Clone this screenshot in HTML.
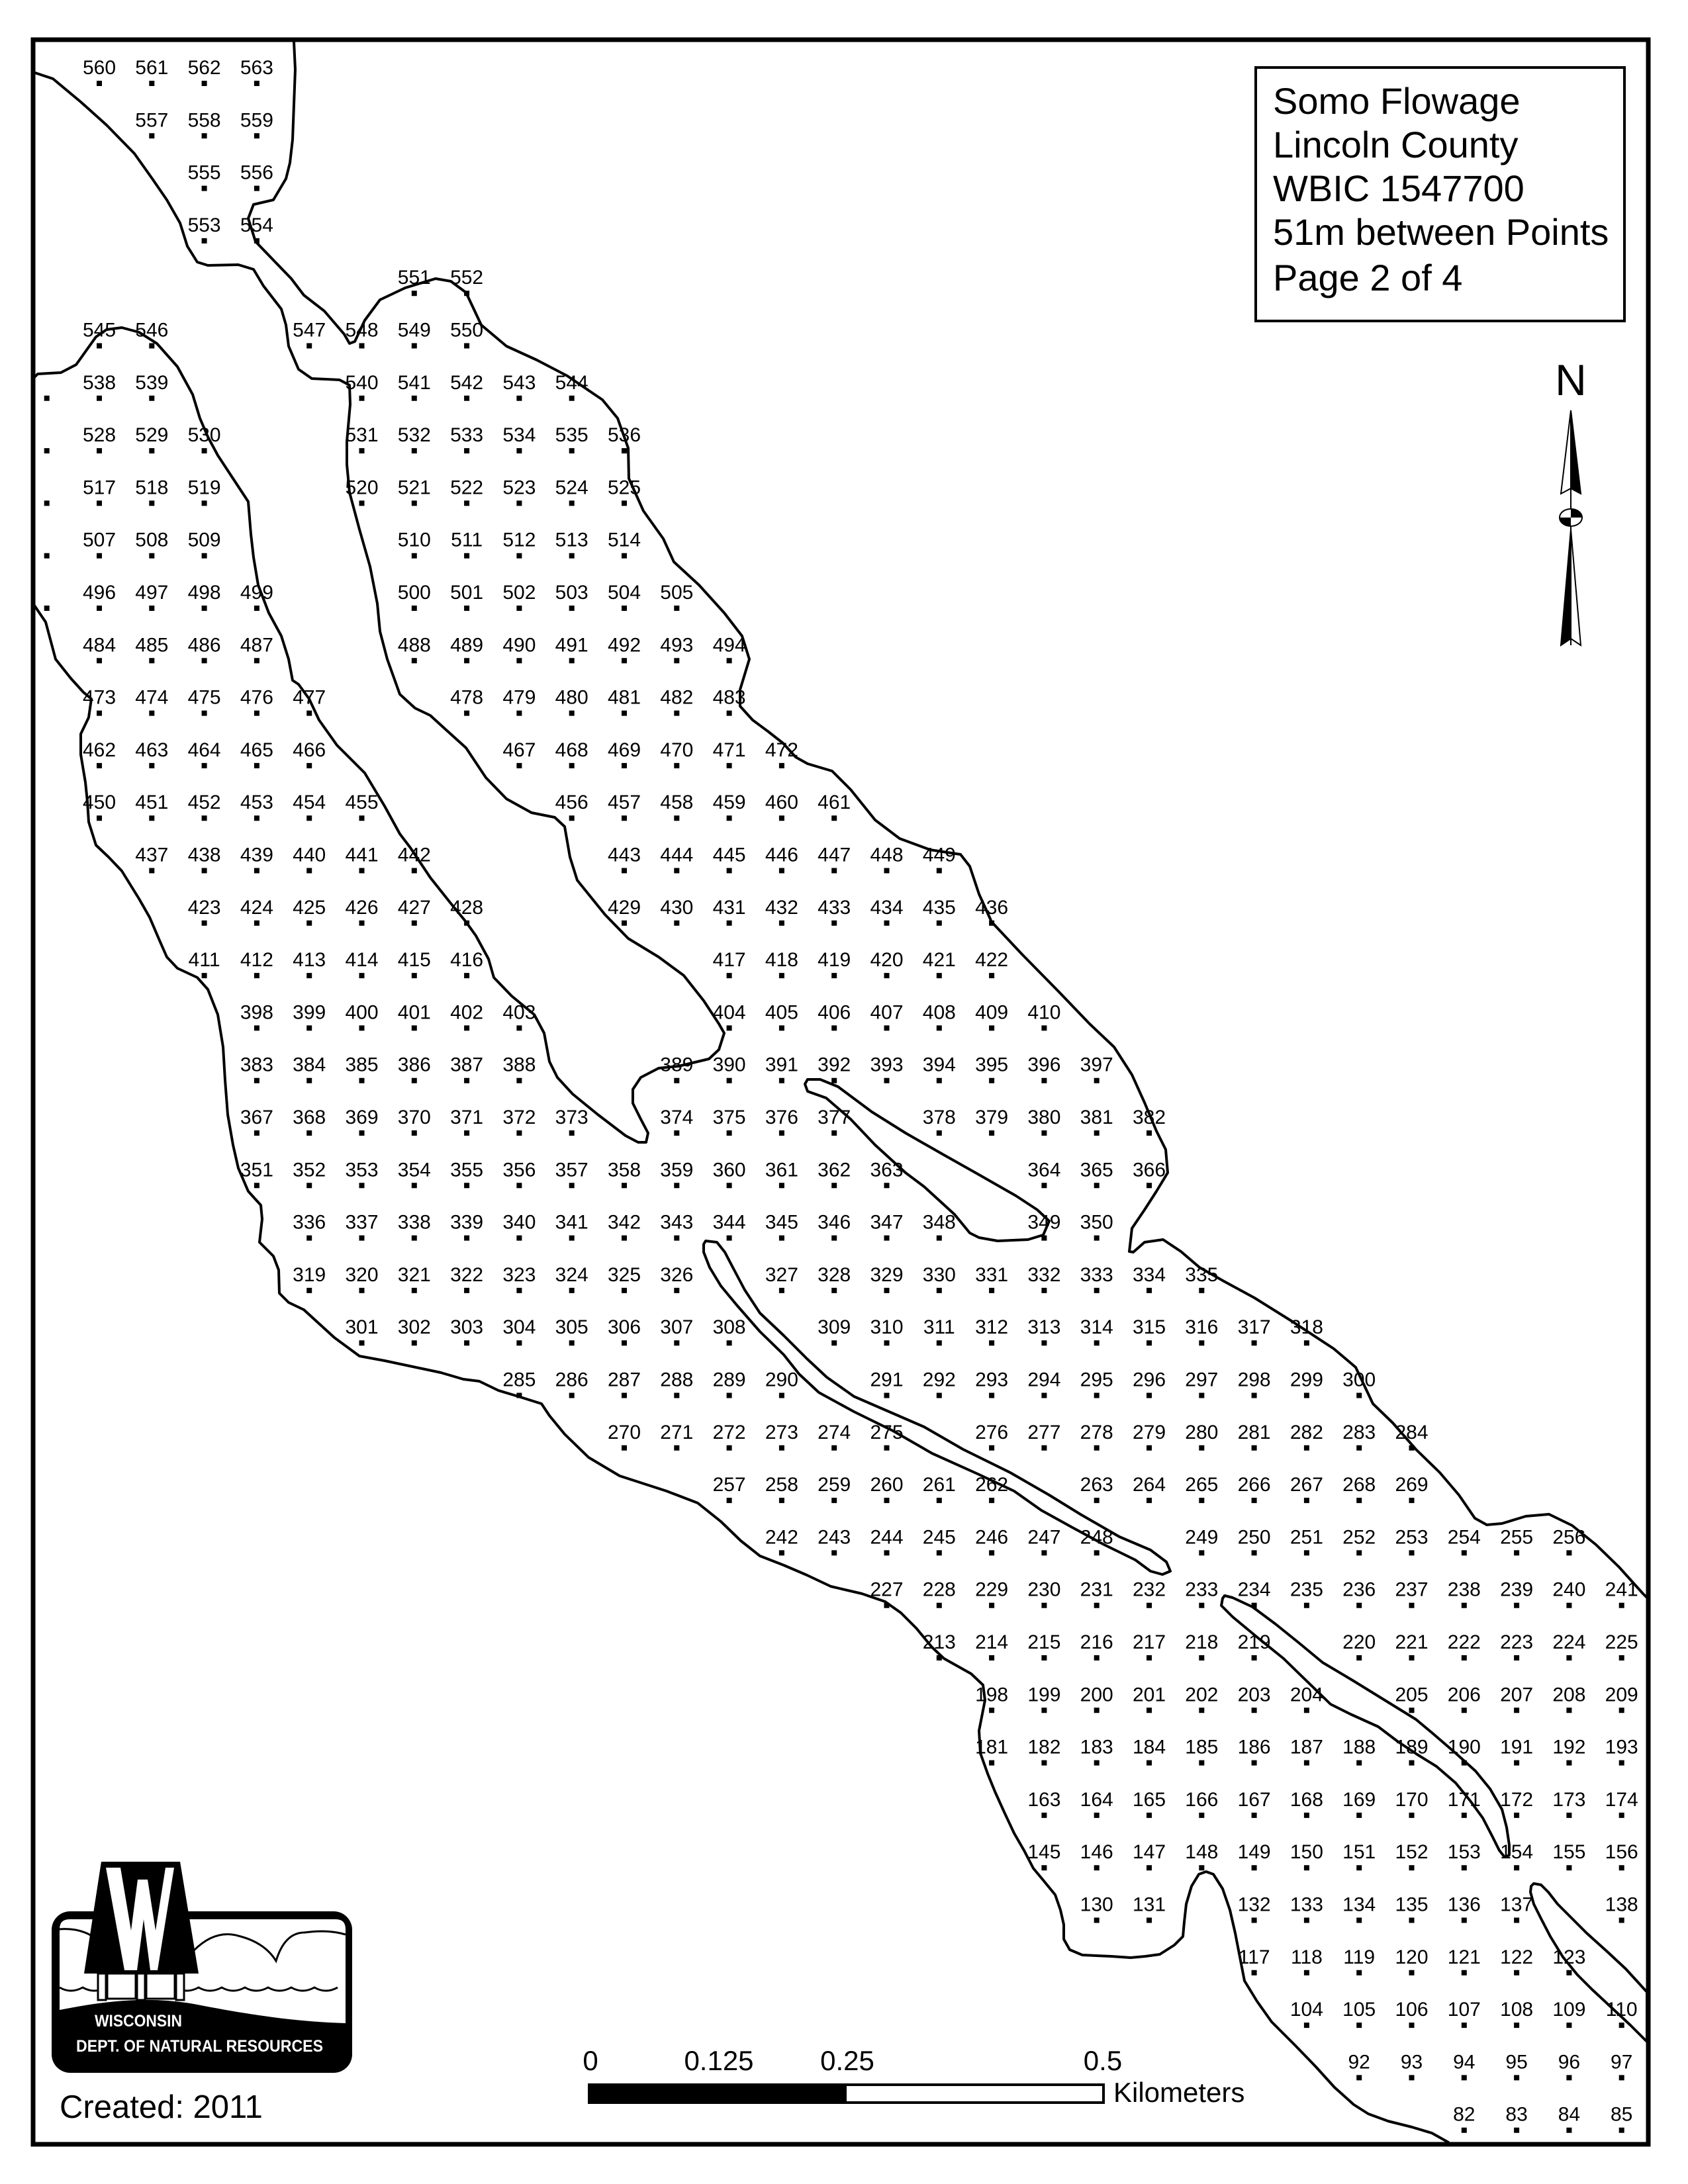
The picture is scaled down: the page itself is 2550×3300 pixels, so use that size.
<!DOCTYPE html>
<html><head><meta charset="utf-8"><style>
html,body{margin:0;padding:0;background:#fff}
svg{display:block}
.n text{font-family:"Liberation Sans",Arial,sans-serif;font-size:30px;text-anchor:middle;fill:#000}
.n path{stroke:#000;stroke-width:8;stroke-dasharray:8 71.3;fill:none}
.sh{fill:none;stroke:#000;stroke-width:4;stroke-linejoin:round;stroke-linecap:round}
</style></head><body>
<svg width="2550" height="3300" viewBox="0 0 2550 3300" xmlns="http://www.w3.org/2000/svg">
<rect x="0" y="0" width="2550" height="3300" fill="#fff"/>

<polyline class="sh" points="50,109 80,119 122,154 161,189 203,232 230,270 252,302 272,337 283,372 298,396 314,401 360,400 383,407 398,432 425,467 432,491 436,523 451,558 471,572 513,574 528,582 529,611 524,667 524,702 528,744 543,800 559,856 570,912 574,954 585,996 604,1049 627,1070 650,1081 673,1102 704,1130 734,1175 765,1207 803,1228 838,1235 853,1249 861,1295 872,1330 914,1382 949,1418 995,1446 1033,1474 1063,1512 1086,1547 1094,1561 1086,1586 1071,1600 1025,1611 995,1614 968,1628 956,1646 956,1667 968,1691 979,1712 976,1726 964,1726 945,1716 903,1684 865,1653 842,1628 830,1604 822,1561 807,1533 773,1505 746,1477 738,1449 719,1414 704,1393 681,1365 650,1326 620,1281 604,1260 581,1218 551,1168 509,1126 482,1088 467,1056 451,1034 442,1028 436,996 425,961 406,926 390,884 383,842 379,807 375,758 352,723 329,688 314,660 302,632 291,596 268,554 237,519 210,502 184,495 161,498 145,509 115,551 92,563 57,565 50,572"/>
<polyline class="sh" points="444,63 446,105 442,211 438,246 432,270 413,302 383,309 375,330 386,365 413,393 440,421 459,446 490,470 520,505 528,519 536,516 551,484 574,453 612,435 658,421 681,425 704,442 727,491 765,523 811,544 857,568 910,604 933,632 949,677 950,723 972,772 1002,814 1018,849 1056,884 1094,926 1121,961 1132,996 1118,1042 1118,1067 1137,1088 1160,1105 1183,1123 1202,1144 1220,1154 1257,1165 1285,1193 1322,1239 1359,1267 1405,1284 1451,1291 1465,1309 1479,1351 1498,1393 1544,1442 1599,1498 1646,1547 1683,1582 1710,1624 1729,1666 1747,1709 1761,1737 1764,1772 1747,1800 1729,1828 1710,1856 1706,1891 1712,1892 1729,1877 1757,1873 1784,1891 1812,1915 1849,1936 1895,1961 1951,1996 2015,2038 2048,2066 2074,2121 2104,2150 2139,2190 2175,2225 2204,2259 2228,2294 2246,2304 2269,2302 2305,2291 2340,2288 2375,2305 2411,2334 2446,2368 2482,2408 2490,2416"/>
<polyline class="sh" points="50,912 69,940 84,996 107,1025 126,1046 138,1056 134,1084 122,1109 122,1140 129,1182 132,1211 134,1242 145,1277 164,1295 184,1316 210,1358 226,1386 241,1421 252,1446 268,1463 298,1477 314,1495 329,1533 337,1582 340,1632 344,1684 352,1730 360,1765 375,1800 394,1821 396,1842 392,1877 413,1898 421,1919 422,1954 436,1968 459,1979 505,2021 543,2049 581,2056 666,2074 700,2084 724,2087 753,2101 783,2110 818,2121 830,2139 853,2167 889,2202 936,2230 1007,2253 1054,2271 1089,2299 1119,2328 1148,2351 1184,2365 1219,2380 1255,2397 1302,2408 1337,2420 1361,2437 1384,2460 1408,2489 1426,2506 1467,2529 1485,2546 1488,2569 1479,2615 1481,2649 1492,2680 1503,2707 1517,2738 1532,2770 1547,2796 1561,2823 1576,2841 1594,2863 1602,2886 1607,2908 1607,2930 1616,2946 1635,2954 1679,2956 1708,2958 1730,2956 1752,2953 1774,2939 1787,2926 1789,2904 1792,2877 1800,2850 1811,2832 1822,2828 1833,2832 1847,2854 1858,2886 1866,2921 1873,2957 1880,2993 1899,3024 1921,3055 1957,3091 1987,3122 2016,3154 2045,3180 2067,3194 2097,3205 2133,3214 2163,3223 2188,3237"/>
<polygon class="sh" points="1220,1631 1239,1631 1266,1642 1317,1680 1368,1712 1424,1744 1479,1775 1535,1807 1567,1828 1585,1845 1576,1866 1553,1873 1507,1875 1479,1870 1465,1863 1442,1835 1396,1793 1368,1772 1322,1730 1285,1691 1248,1659 1220,1649 1216,1638"/>
<polygon class="sh" points="1066,1875 1083,1877 1095,1892 1107,1915 1125,1949 1148,1984 1184,2018 1219,2053 1249,2081 1290,2110 1343,2133 1396,2156 1455,2190 1526,2225 1585,2259 1632,2288 1691,2322 1738,2342 1762,2360 1768,2374 1756,2379 1738,2374 1715,2357 1668,2334 1620,2308 1573,2282 1532,2253 1479,2228 1408,2196 1349,2162 1290,2133 1237,2104 1207,2076 1184,2047 1148,2012 1113,1972 1089,1943 1072,1915 1063,1892 1063,1880"/>
<polygon class="sh" points="1850,2411 1862,2414 1892,2428 1927,2454 1963,2483 1998,2512 2045,2540 2092,2569 2139,2598 2163,2618 2199,2649 2229,2676 2251,2703 2269,2734 2276,2761 2280,2788 2280,2803 2273,2806 2265,2796 2254,2774 2240,2747 2221,2721 2199,2694 2170,2669 2141,2651 2111,2631 2082,2609 2040,2590 2010,2575 1974,2540 1939,2506 1903,2477 1862,2443 1845,2426 1847,2415"/>
<polygon class="sh" points="2317,2846 2328,2848 2339,2859 2353,2877 2375,2899 2397,2921 2427,2948 2456,2975 2488,3010 2488,3085 2463,3060 2434,3033 2405,3006 2383,2984 2361,2957 2342,2926 2328,2899 2317,2877 2312,2859 2313,2850"/>

<rect x="50" y="60" width="2440" height="3180" fill="none" stroke="#000" stroke-width="7"/>

<g class="n">
<g transform="translate(0,112)"><text x="150">560</text><text x="229.3">561</text><text x="308.6">562</text><text x="387.9">563</text><path d="M146 14h245.9"/></g>
<g transform="translate(0,191.3)"><text x="229.3">557</text><text x="308.6">558</text><text x="387.9">559</text><path d="M225.3 14h166.6"/></g>
<g transform="translate(0,270.6)"><text x="308.6">555</text><text x="387.9">556</text><path d="M304.6 14h87.3"/></g>
<g transform="translate(0,349.9)"><text x="308.6">553</text><text x="387.9">554</text><path d="M304.6 14h87.3"/></g>
<g transform="translate(0,429.2)"><text x="625.8">551</text><text x="705.1">552</text><path d="M621.8 14h87.3"/></g>
<g transform="translate(0,508.5)"><text x="150">545</text><text x="229.3">546</text><text x="467.2">547</text><text x="546.5">548</text><text x="625.8">549</text><text x="705.1">550</text><path d="M146 14h87.3M463.2 14h245.9"/></g>
<g transform="translate(0,587.8)"><text x="150">538</text><text x="229.3">539</text><text x="546.5">540</text><text x="625.8">541</text><text x="705.1">542</text><text x="784.4">543</text><text x="863.7">544</text><path d="M66.7 14h166.6M542.5 14h325.2"/></g>
<g transform="translate(0,667.1)"><text x="150">528</text><text x="229.3">529</text><text x="308.6">530</text><text x="546.5">531</text><text x="625.8">532</text><text x="705.1">533</text><text x="784.4">534</text><text x="863.7">535</text><text x="943">536</text><path d="M66.7 14h245.9M542.5 14h404.5"/></g>
<g transform="translate(0,746.4)"><text x="150">517</text><text x="229.3">518</text><text x="308.6">519</text><text x="546.5">520</text><text x="625.8">521</text><text x="705.1">522</text><text x="784.4">523</text><text x="863.7">524</text><text x="943">525</text><path d="M66.7 14h245.9M542.5 14h404.5"/></g>
<g transform="translate(0,825.7)"><text x="150">507</text><text x="229.3">508</text><text x="308.6">509</text><text x="625.8">510</text><text x="705.1">511</text><text x="784.4">512</text><text x="863.7">513</text><text x="943">514</text><path d="M66.7 14h245.9M621.8 14h325.2"/></g>
<g transform="translate(0,905)"><text x="150">496</text><text x="229.3">497</text><text x="308.6">498</text><text x="387.9">499</text><text x="625.8">500</text><text x="705.1">501</text><text x="784.4">502</text><text x="863.7">503</text><text x="943">504</text><text x="1022.3">505</text><path d="M66.7 14h325.2M621.8 14h404.5"/></g>
<g transform="translate(0,984.3)"><text x="150">484</text><text x="229.3">485</text><text x="308.6">486</text><text x="387.9">487</text><text x="625.8">488</text><text x="705.1">489</text><text x="784.4">490</text><text x="863.7">491</text><text x="943">492</text><text x="1022.3">493</text><text x="1101.6">494</text><path d="M146 14h245.9M621.8 14h483.8"/></g>
<g transform="translate(0,1063.6)"><text x="150">473</text><text x="229.3">474</text><text x="308.6">475</text><text x="387.9">476</text><text x="467.2">477</text><text x="705.1">478</text><text x="784.4">479</text><text x="863.7">480</text><text x="943">481</text><text x="1022.3">482</text><text x="1101.6">483</text><path d="M146 14h325.2M701.1 14h404.5"/></g>
<g transform="translate(0,1142.9)"><text x="150">462</text><text x="229.3">463</text><text x="308.6">464</text><text x="387.9">465</text><text x="467.2">466</text><text x="784.4">467</text><text x="863.7">468</text><text x="943">469</text><text x="1022.3">470</text><text x="1101.6">471</text><text x="1180.9">472</text><path d="M146 14h325.2M780.4 14h404.5"/></g>
<g transform="translate(0,1222.2)"><text x="150">450</text><text x="229.3">451</text><text x="308.6">452</text><text x="387.9">453</text><text x="467.2">454</text><text x="546.5">455</text><text x="863.7">456</text><text x="943">457</text><text x="1022.3">458</text><text x="1101.6">459</text><text x="1180.9">460</text><text x="1260.2">461</text><path d="M146 14h404.5M859.7 14h404.5"/></g>
<g transform="translate(0,1301.5)"><text x="229.3">437</text><text x="308.6">438</text><text x="387.9">439</text><text x="467.2">440</text><text x="546.5">441</text><text x="625.8">442</text><text x="943">443</text><text x="1022.3">444</text><text x="1101.6">445</text><text x="1180.9">446</text><text x="1260.2">447</text><text x="1339.5">448</text><text x="1418.8">449</text><path d="M225.3 14h404.5M939 14h483.8"/></g>
<g transform="translate(0,1380.8)"><text x="308.6">423</text><text x="387.9">424</text><text x="467.2">425</text><text x="546.5">426</text><text x="625.8">427</text><text x="705.1">428</text><text x="943">429</text><text x="1022.3">430</text><text x="1101.6">431</text><text x="1180.9">432</text><text x="1260.2">433</text><text x="1339.5">434</text><text x="1418.8">435</text><text x="1498.1">436</text><path d="M304.6 14h404.5M939 14h563.1"/></g>
<g transform="translate(0,1460.1)"><text x="308.6">411</text><text x="387.9">412</text><text x="467.2">413</text><text x="546.5">414</text><text x="625.8">415</text><text x="705.1">416</text><text x="1101.6">417</text><text x="1180.9">418</text><text x="1260.2">419</text><text x="1339.5">420</text><text x="1418.8">421</text><text x="1498.1">422</text><path d="M304.6 14h404.5M1097.6 14h404.5"/></g>
<g transform="translate(0,1539.4)"><text x="387.9">398</text><text x="467.2">399</text><text x="546.5">400</text><text x="625.8">401</text><text x="705.1">402</text><text x="784.4">403</text><text x="1101.6">404</text><text x="1180.9">405</text><text x="1260.2">406</text><text x="1339.5">407</text><text x="1418.8">408</text><text x="1498.1">409</text><text x="1577.4">410</text><path d="M383.9 14h404.5M1097.6 14h483.8"/></g>
<g transform="translate(0,1618.7)"><text x="387.9">383</text><text x="467.2">384</text><text x="546.5">385</text><text x="625.8">386</text><text x="705.1">387</text><text x="784.4">388</text><text x="1022.3">389</text><text x="1101.6">390</text><text x="1180.9">391</text><text x="1260.2">392</text><text x="1339.5">393</text><text x="1418.8">394</text><text x="1498.1">395</text><text x="1577.4">396</text><text x="1656.7">397</text><path d="M383.9 14h404.5M1018.3 14h642.4"/></g>
<g transform="translate(0,1698)"><text x="387.9">367</text><text x="467.2">368</text><text x="546.5">369</text><text x="625.8">370</text><text x="705.1">371</text><text x="784.4">372</text><text x="863.7">373</text><text x="1022.3">374</text><text x="1101.6">375</text><text x="1180.9">376</text><text x="1260.2">377</text><text x="1418.8">378</text><text x="1498.1">379</text><text x="1577.4">380</text><text x="1656.7">381</text><text x="1736">382</text><path d="M383.9 14h483.8M1018.3 14h245.9M1414.8 14h325.2"/></g>
<g transform="translate(0,1777.3)"><text x="387.9">351</text><text x="467.2">352</text><text x="546.5">353</text><text x="625.8">354</text><text x="705.1">355</text><text x="784.4">356</text><text x="863.7">357</text><text x="943">358</text><text x="1022.3">359</text><text x="1101.6">360</text><text x="1180.9">361</text><text x="1260.2">362</text><text x="1339.5">363</text><text x="1577.4">364</text><text x="1656.7">365</text><text x="1736">366</text><path d="M383.9 14h959.6M1573.4 14h166.6"/></g>
<g transform="translate(0,1856.6)"><text x="467.2">336</text><text x="546.5">337</text><text x="625.8">338</text><text x="705.1">339</text><text x="784.4">340</text><text x="863.7">341</text><text x="943">342</text><text x="1022.3">343</text><text x="1101.6">344</text><text x="1180.9">345</text><text x="1260.2">346</text><text x="1339.5">347</text><text x="1418.8">348</text><text x="1577.4">349</text><text x="1656.7">350</text><path d="M463.2 14h959.6M1573.4 14h87.3"/></g>
<g transform="translate(0,1935.9)"><text x="467.2">319</text><text x="546.5">320</text><text x="625.8">321</text><text x="705.1">322</text><text x="784.4">323</text><text x="863.7">324</text><text x="943">325</text><text x="1022.3">326</text><text x="1180.9">327</text><text x="1260.2">328</text><text x="1339.5">329</text><text x="1418.8">330</text><text x="1498.1">331</text><text x="1577.4">332</text><text x="1656.7">333</text><text x="1736">334</text><text x="1815.3">335</text><path d="M463.2 14h563.1M1176.9 14h642.4"/></g>
<g transform="translate(0,2015.2)"><text x="546.5">301</text><text x="625.8">302</text><text x="705.1">303</text><text x="784.4">304</text><text x="863.7">305</text><text x="943">306</text><text x="1022.3">307</text><text x="1101.6">308</text><text x="1260.2">309</text><text x="1339.5">310</text><text x="1418.8">311</text><text x="1498.1">312</text><text x="1577.4">313</text><text x="1656.7">314</text><text x="1736">315</text><text x="1815.3">316</text><text x="1894.6">317</text><text x="1973.9">318</text><path d="M542.5 14h563.1M1256.2 14h721.7"/></g>
<g transform="translate(0,2094.5)"><text x="784.4">285</text><text x="863.7">286</text><text x="943">287</text><text x="1022.3">288</text><text x="1101.6">289</text><text x="1180.9">290</text><text x="1339.5">291</text><text x="1418.8">292</text><text x="1498.1">293</text><text x="1577.4">294</text><text x="1656.7">295</text><text x="1736">296</text><text x="1815.3">297</text><text x="1894.6">298</text><text x="1973.9">299</text><text x="2053.2">300</text><path d="M780.4 14h404.5M1335.5 14h721.7"/></g>
<g transform="translate(0,2173.8)"><text x="943">270</text><text x="1022.3">271</text><text x="1101.6">272</text><text x="1180.9">273</text><text x="1260.2">274</text><text x="1339.5">275</text><text x="1498.1">276</text><text x="1577.4">277</text><text x="1656.7">278</text><text x="1736">279</text><text x="1815.3">280</text><text x="1894.6">281</text><text x="1973.9">282</text><text x="2053.2">283</text><text x="2132.5">284</text><path d="M939 14h404.5M1494.1 14h642.4"/></g>
<g transform="translate(0,2253.1)"><text x="1101.6">257</text><text x="1180.9">258</text><text x="1260.2">259</text><text x="1339.5">260</text><text x="1418.8">261</text><text x="1498.1">262</text><text x="1656.7">263</text><text x="1736">264</text><text x="1815.3">265</text><text x="1894.6">266</text><text x="1973.9">267</text><text x="2053.2">268</text><text x="2132.5">269</text><path d="M1097.6 14h404.5M1652.7 14h483.8"/></g>
<g transform="translate(0,2332.4)"><text x="1180.9">242</text><text x="1260.2">243</text><text x="1339.5">244</text><text x="1418.8">245</text><text x="1498.1">246</text><text x="1577.4">247</text><text x="1656.7">248</text><text x="1815.3">249</text><text x="1894.6">250</text><text x="1973.9">251</text><text x="2053.2">252</text><text x="2132.5">253</text><text x="2211.8">254</text><text x="2291.1">255</text><text x="2370.4">256</text><path d="M1176.9 14h483.8M1811.3 14h563.1"/></g>
<g transform="translate(0,2411.7)"><text x="1339.5">227</text><text x="1418.8">228</text><text x="1498.1">229</text><text x="1577.4">230</text><text x="1656.7">231</text><text x="1736">232</text><text x="1815.3">233</text><text x="1894.6">234</text><text x="1973.9">235</text><text x="2053.2">236</text><text x="2132.5">237</text><text x="2211.8">238</text><text x="2291.1">239</text><text x="2370.4">240</text><text x="2449.7">241</text><path d="M1335.5 14h1118.2"/></g>
<g transform="translate(0,2491)"><text x="1418.8">213</text><text x="1498.1">214</text><text x="1577.4">215</text><text x="1656.7">216</text><text x="1736">217</text><text x="1815.3">218</text><text x="1894.6">219</text><text x="2053.2">220</text><text x="2132.5">221</text><text x="2211.8">222</text><text x="2291.1">223</text><text x="2370.4">224</text><text x="2449.7">225</text><path d="M1414.8 14h483.8M2049.2 14h404.5"/></g>
<g transform="translate(0,2570.3)"><text x="1498.1">198</text><text x="1577.4">199</text><text x="1656.7">200</text><text x="1736">201</text><text x="1815.3">202</text><text x="1894.6">203</text><text x="1973.9">204</text><text x="2132.5">205</text><text x="2211.8">206</text><text x="2291.1">207</text><text x="2370.4">208</text><text x="2449.7">209</text><path d="M1494.1 14h483.8M2128.5 14h325.2"/></g>
<g transform="translate(0,2649.6)"><text x="1498.1">181</text><text x="1577.4">182</text><text x="1656.7">183</text><text x="1736">184</text><text x="1815.3">185</text><text x="1894.6">186</text><text x="1973.9">187</text><text x="2053.2">188</text><text x="2132.5">189</text><text x="2211.8">190</text><text x="2291.1">191</text><text x="2370.4">192</text><text x="2449.7">193</text><path d="M1494.1 14h959.6"/></g>
<g transform="translate(0,2728.9)"><text x="1577.4">163</text><text x="1656.7">164</text><text x="1736">165</text><text x="1815.3">166</text><text x="1894.6">167</text><text x="1973.9">168</text><text x="2053.2">169</text><text x="2132.5">170</text><text x="2211.8">171</text><text x="2291.1">172</text><text x="2370.4">173</text><text x="2449.7">174</text><path d="M1573.4 14h880.3"/></g>
<g transform="translate(0,2808.2)"><text x="1577.4">145</text><text x="1656.7">146</text><text x="1736">147</text><text x="1815.3">148</text><text x="1894.6">149</text><text x="1973.9">150</text><text x="2053.2">151</text><text x="2132.5">152</text><text x="2211.8">153</text><text x="2291.1">154</text><text x="2370.4">155</text><text x="2449.7">156</text><path d="M1573.4 14h880.3"/></g>
<g transform="translate(0,2887.5)"><text x="1656.7">130</text><text x="1736">131</text><text x="1894.6">132</text><text x="1973.9">133</text><text x="2053.2">134</text><text x="2132.5">135</text><text x="2211.8">136</text><text x="2291.1">137</text><text x="2449.7">138</text><path d="M1652.7 14h87.3M1890.6 14h404.5M2445.7 14h8"/></g>
<g transform="translate(0,2966.8)"><text x="1894.6">117</text><text x="1973.9">118</text><text x="2053.2">119</text><text x="2132.5">120</text><text x="2211.8">121</text><text x="2291.1">122</text><text x="2370.4">123</text><path d="M1890.6 14h483.8"/></g>
<g transform="translate(0,3046.1)"><text x="1973.9">104</text><text x="2053.2">105</text><text x="2132.5">106</text><text x="2211.8">107</text><text x="2291.1">108</text><text x="2370.4">109</text><text x="2449.7">110</text><path d="M1969.9 14h483.8"/></g>
<g transform="translate(0,3125.4)"><text x="2053.2">92</text><text x="2132.5">93</text><text x="2211.8">94</text><text x="2291.1">95</text><text x="2370.4">96</text><text x="2449.7">97</text><path d="M2049.2 14h404.5"/></g>
<g transform="translate(0,3204.7)"><text x="2211.8">82</text><text x="2291.1">83</text><text x="2370.4">84</text><text x="2449.7">85</text><path d="M2207.8 14h245.9"/></g>
</g>

<rect x="1897" y="102" width="557" height="383" fill="#fff" stroke="#000" stroke-width="4"/>
<g font-family="Liberation Sans, Arial, sans-serif" font-size="56" fill="#000">
<text x="1923" y="172">Somo Flowage</text>
<text x="1923" y="238">Lincoln County</text>
<text x="1923" y="304">WBIC 1547700</text>
<text x="1923" y="370">51m between Points</text>
<text x="1923" y="439">Page 2 of 4</text>
</g>

<text x="2373" y="597" font-family="Liberation Sans, Arial, sans-serif" font-size="66" text-anchor="middle">N</text>
<line x1="2373" y1="620" x2="2373" y2="975" stroke="#000" stroke-width="2"/>
<polygon points="2373,620 2358,746 2373,738" fill="#fff" stroke="#000" stroke-width="2"/>
<polygon points="2373,620 2388,746 2373,738" fill="#000" stroke="#000" stroke-width="2"/>
<ellipse cx="2373" cy="782" rx="17" ry="13" fill="#fff" stroke="#000" stroke-width="2"/>
<path d="M2373 782 V769 A17 13 0 0 1 2390 782 Z" fill="#000"/>
<path d="M2373 782 V795 A17 13 0 0 1 2356 782 Z" fill="#000"/>
<polygon points="2373,800 2358,975 2373,965" fill="#000" stroke="#000" stroke-width="2"/>
<polygon points="2373,800 2388,975 2373,965" fill="#fff" stroke="#000" stroke-width="2"/>

<g font-family="Liberation Sans, Arial, sans-serif" font-size="42" text-anchor="middle">
<text x="892" y="3128">0</text>
<text x="1086" y="3128">0.125</text>
<text x="1280" y="3128">0.25</text>
<text x="1666" y="3128">0.5</text>
</g>
<rect x="890" y="3150" width="777" height="27" fill="#fff" stroke="#000" stroke-width="4"/>
<rect x="890" y="3150" width="389" height="27" fill="#000"/>
<text x="1682" y="3176" font-family="Liberation Sans, Arial, sans-serif" font-size="42">Kilometers</text>

<rect x="78" y="2888" width="454" height="244" rx="28" fill="#000"/>
<path d="M90 2915 Q90 2900 105 2900 H507 Q522 2900 522 2915 V3057 C450 3055 380 3045 293 3028 C220 3015 150 3025 90 3037 Z" fill="#fff"/>
<path d="M90 2915 Q125 2912 150 2933 M293 2947 Q325 2915 360 2925 Q400 2935 417 2963 Q430 2920 460 2920 Q495 2915 522 2923" fill="none" stroke="#000" stroke-width="3"/>
<path d="M90 3003 q17 10 35 0 q17 10 35 0 q17 10 35 0 q17 10 35 0 q17 10 35 0 q17 10 35 0 q17 10 35 0 q17 10 35 0 q17 10 35 0 q17 10 35 0 q17 10 35 0 q17 10 35 0" fill="none" stroke="#000" stroke-width="3"/>
<polygon points="153,2813 272,2813 300,2982 127,2982" fill="#000"/>
<polygon points="160,2822 182,2822 198,2917 208,2840 223,2840 235,2917 250,2822 263,2822 238,2977 227,2977 217,2900 207,2977 188,2977" fill="#fff"/>
<g fill="#fff" stroke="#000" stroke-width="3">
<rect x="148" y="2982" width="12" height="40"/>
<rect x="162" y="2982" width="43" height="38"/>
<rect x="207" y="2982" width="12" height="40"/>
<rect x="221" y="2982" width="43" height="38"/>
<rect x="266" y="2982" width="12" height="40"/>
</g>
<g font-family="Liberation Sans, Arial, sans-serif" font-weight="bold" font-size="25" fill="#fff">
<text x="143" y="3062" textLength="132" lengthAdjust="spacingAndGlyphs">WISCONSIN</text>
<text x="115" y="3100" textLength="373" lengthAdjust="spacingAndGlyphs">DEPT. OF NATURAL RESOURCES</text>
</g>
<text x="90" y="3200" font-family="Liberation Sans, Arial, sans-serif" font-size="49">Created: 2011</text>
</svg>
</body></html>
